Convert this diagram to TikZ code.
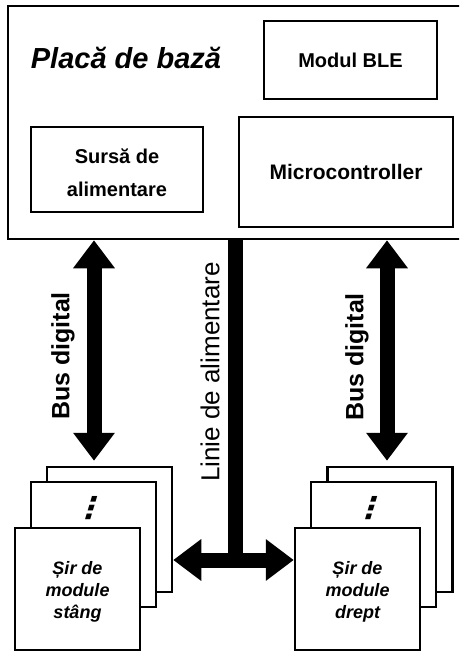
\documentclass[tikz,border=0pt]{standalone}
\usepackage{fontspec}
\setmainfont{Liberation Sans}
\newfontfamily\dotsfont[FakeSlant=0.3]{DejaVu Sans Bold}
\usetikzlibrary{arrows.meta}
\tikzset{
  box/.style={draw, line width=2.5pt, fill=white, inner sep=0pt},
  stackbox/.style={box, minimum width=125pt, minimum height=125pt},
  bigarrow/.style={line width=15pt, {Triangle[width=40pt,length=28pt]}-{Triangle[width=40pt,length=28pt]}},
  label/.style={font=\fontsize{20}{20}\selectfont\bfseries},
  stacklabel/.style={align=center, font=\fontsize{18}{22}\selectfont\bfseries\itshape},
  buslabel/.style={rotate=90, font=\fontsize{25}{25}\selectfont\bfseries},
  dotslabel/.style={font=\dotsfont\fontsize{30}{30}\selectfont}
}
\begin{document}
\begin{tikzpicture}[x=1pt,y=-1pt]
  \useasboundingbox (0,0) rectangle (459,653);
  \clip (0,0) rectangle (459,653);
  \node[box, minimum width=454pt, minimum height=233pt] (base) at (235,122.5) {};
  \node[font=\fontsize{29}{29}\selectfont\bfseries\itshape] (title) at (126,58) {Placă de bază};
  \node[box, label, minimum width=173pt, minimum height=78pt] (ble) at (350.5,60) {Modul BLE};
  \node[box, minimum width=172pt, minimum height=85pt] (psu) at (117,169.5) {};
  \node[label, align=center, font=\fontsize{20}{33}\selectfont\bfseries] (psutext) at (117,173) {Sursă de\\alimentare};
  \node[box, label, font=\fontsize{21}{21}\selectfont\bfseries, minimum width=214pt, minimum height=110pt] (mcu) at (346,172) {Microcontroller};
  \node[stackbox] (lback) at (109.5,529.5) {};
  \node[stackbox] (lmid) at (93.5,544.5) {};
  \node[dotslabel] (ldots) at (88,508) {⋮};
  \node[stackbox, minimum height=122pt] (lfront) at (77.5,589) {};
  \node[stacklabel] (lfronttext) at (77.5,592) {Șir de\\module\\stâng};
  \node[stackbox] (rback) at (390,529.5) {};
  \node[stackbox] (rmid) at (373.5,544.5) {};
  \node[dotslabel] (rdots) at (368,508) {⋮};
  \node[stackbox, minimum height=122pt] (rfront) at (357.5,589) {};
  \node[stacklabel] (rfronttext) at (357.5,592) {Șir de\\module\\drept};
  \coordinate (lx) at (94,0);
  \coordinate (rx) at (387,0);
  \coordinate (junc) at (235,560);
  \draw[bigarrow] (base.south -| lx) -- ([yshift=5pt]lback.north -| lx);
  \draw[bigarrow] (base.south -| rx) -- ([yshift=5pt]rback.north -| rx);
  \draw[line width=15pt] (base.south) -- (junc);
  \draw[bigarrow] (lback.east |- junc) -- (rfront.west |- junc);
  \node[buslabel] (lbus) at (63,356) {Bus digital};
  \node[buslabel] (rbus) at (357,357) {Bus digital};
  \node[rotate=90, font=\fontsize{26}{26}\selectfont] (power) at (210,372) {Linie de alimentare};
\end{tikzpicture}
\end{document}
